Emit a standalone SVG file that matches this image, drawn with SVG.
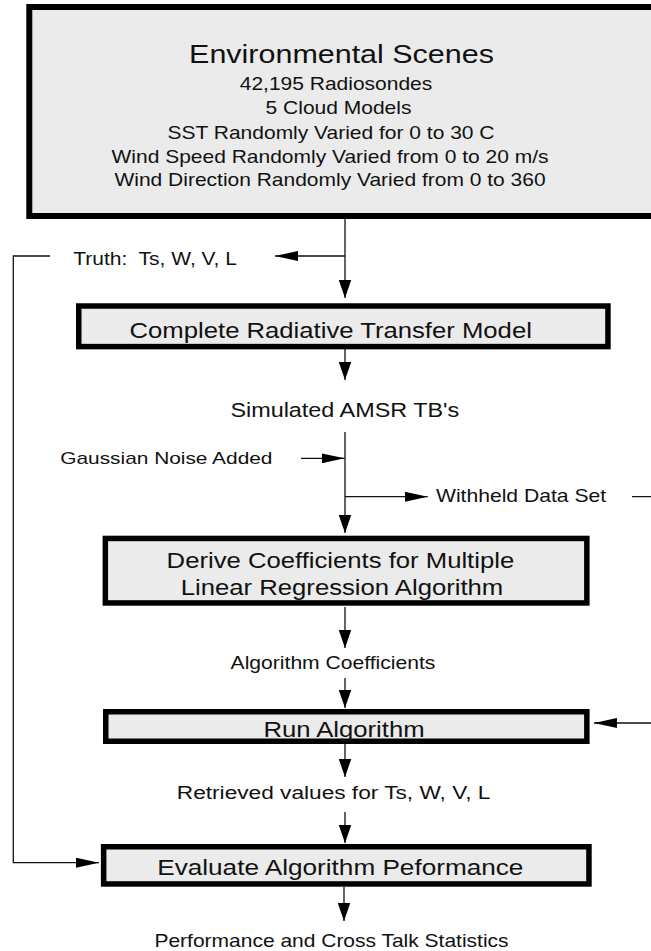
<svg xmlns="http://www.w3.org/2000/svg" width="651" height="951" viewBox="0 0 651 951">
<style>
  .box { fill: #ebebeb; stroke: #000; }
  .t { font-family: "Liberation Sans", Arial, sans-serif; fill: #111; text-anchor: middle; }
  .s { text-anchor: start; }
  .c { fill: none; stroke: #111; stroke-width: 1.3; }
  .av { marker-end: url(#av); }
  .ah { marker-end: url(#ah); }
</style>
<defs>
  <marker id="av" markerUnits="userSpaceOnUse" markerWidth="18" markerHeight="13" refX="18" refY="6.25" orient="auto" viewBox="0 0 18 12.5">
    <path d="M0,0 L18,6.25 L0,12.5 z" fill="#000"/>
  </marker>
  <marker id="ah" markerUnits="userSpaceOnUse" markerWidth="23" markerHeight="10" refX="23" refY="5" orient="auto" viewBox="0 0 23 10">
    <path d="M0,0 L23,5 L0,10 z" fill="#000"/>
  </marker>
</defs>
<rect width="651" height="951" fill="#fff"/>

<g id="connectors">
  <line class="c av" x1="345" y1="219" x2="345" y2="298"/>
  <line class="c ah" x1="345" y1="256" x2="275" y2="256"/>
  <path class="c ah" d="M50,256 H13.3 V862.7 H99"/>
  <line class="c av" x1="345" y1="349" x2="345" y2="380"/>
  <line class="c av" x1="345" y1="432" x2="345" y2="533"/>
  <line class="c ah" x1="301" y1="458.3" x2="344.6" y2="458.3"/>
  <line class="c ah" x1="345" y1="496.7" x2="427.7" y2="496.7"/>
  <path class="c ah" d="M632,496.7 H680 V723 H594"/>
  <line class="c av" x1="345" y1="607" x2="345" y2="648"/>
  <line class="c av" x1="345" y1="678" x2="345" y2="708"/>
  <line class="c av" x1="345" y1="744" x2="345" y2="777"/>
  <line class="c av" x1="345" y1="812" x2="345" y2="843"/>
  <line class="c av" x1="344" y1="887" x2="344" y2="921"/>
</g>

<g id="env-scenes">
  <rect class="box" x="29.3" y="7" width="660" height="209" stroke-width="6"/>
  <text class="t" transform="translate(341.5,63) scale(1.2,1)" font-size="25.4">Environmental Scenes</text>
  <text class="t" transform="translate(336,89.5) scale(1.2,1)" font-size="17.5">42,195 Radiosondes</text>
  <text class="t" transform="translate(338.5,113.5) scale(1.2,1)" font-size="17.5">5 Cloud Models</text>
  <text class="t" transform="translate(331,138.5) scale(1.2,1)" font-size="17.5">SST Randomly Varied for 0 to 30 C</text>
  <text class="t" transform="translate(330,162.7) scale(1.2,1)" font-size="17.5">Wind Speed Randomly Varied from 0 to 20 m/s</text>
  <text class="t" transform="translate(330,186) scale(1.2,1)" font-size="17.5">Wind Direction Randomly Varied from 0 to 360</text>
</g>

<g id="truth">
  <text class="t s" xml:space="preserve" transform="translate(73.3,265) scale(1.2,1)" font-size="17.5">Truth:  Ts, W, V, L</text>
</g>

<g id="rtm">
  <rect class="box" x="78.75" y="306" width="529.2" height="40.6" stroke-width="5.5"/>
  <text class="t" transform="translate(330.7,338) scale(1.2,1)" font-size="21.4">Complete Radiative Transfer Model</text>
</g>

<g id="simulated">
  <text class="t" transform="translate(344.8,416.7) scale(1.2,1)" font-size="19.5">Simulated AMSR TB's</text>
</g>

<g id="noise">
  <text class="t s" transform="translate(60.2,464) scale(1.2,1)" font-size="17.4">Gaussian Noise Added</text>
</g>

<g id="withheld">
  <text class="t s" transform="translate(436,502) scale(1.2,1)" font-size="17.6">Withheld Data Set</text>
</g>

<g id="derive">
  <rect class="box" x="105.35" y="538.45" width="481.5" height="64.5" stroke-width="5.5"/>
  <text class="t" transform="translate(340.4,568) scale(1.2,1)" font-size="21.4">Derive Coefficients for Multiple</text>
  <text class="t" transform="translate(342,595) scale(1.2,1)" font-size="21.4">Linear Regression Algorithm</text>
</g>

<g id="coefficients">
  <text class="t" transform="translate(333,669) scale(1.2,1)" font-size="17.6">Algorithm Coefficients</text>
</g>

<g id="run">
  <rect class="box" x="105.75" y="711.75" width="481.1" height="29.5" stroke-width="5.5"/>
  <text class="t" transform="translate(344,736.7) scale(1.2,1)" font-size="21.4">Run Algorithm</text>
</g>

<g id="retrieved">
  <text class="t" transform="translate(333.6,799) scale(1.2,1)" font-size="18.9">Retrieved values for Ts, W, V, L</text>
</g>

<g id="evaluate">
  <rect class="box" x="103.65" y="846.75" width="485.3" height="37.2" stroke-width="5.5"/>
  <text class="t" transform="translate(340.3,875) scale(1.2,1)" font-size="21.8">Evaluate Algorithm Peformance</text>
</g>

<g id="performance">
  <text class="t" transform="translate(331.5,946.7) scale(1.2,1)" font-size="17.5">Performance and Cross Talk Statistics</text>
</g>
</svg>
